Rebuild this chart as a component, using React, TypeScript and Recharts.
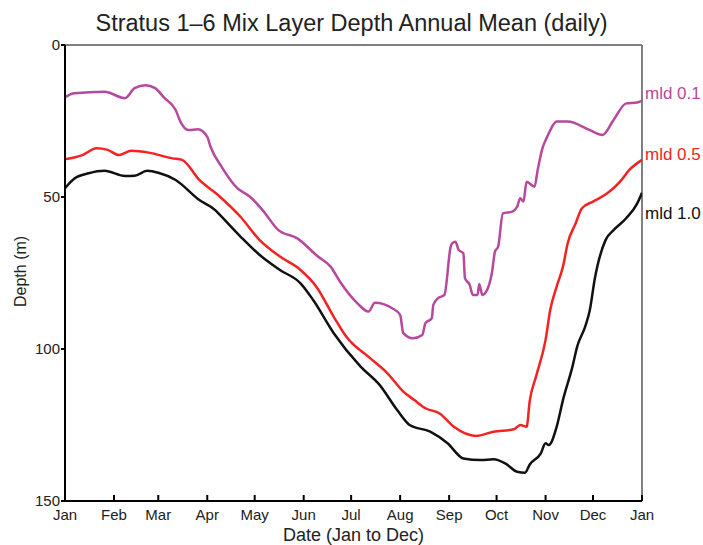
import { Line, LineChart, ReferenceLine, XAxis, YAxis } from "recharts";

const MONTH_TICKS = [0, 31, 59, 90, 120, 151, 181, 212, 243, 273, 304, 334, 365];
const MONTH_LABELS = ["Jan", "Feb", "Mar", "Apr", "May", "Jun", "Jul", "Aug", "Sep", "Oct", "Nov", "Dec", "Jan"];
const DEPTH_TICKS = [0, 50, 100, 150];

// mld 0.1 criterion (day of year, depth in m)
const mld01Days = [
  0, 6, 25, 38, 44, 51, 57, 63, 70, 73, 78, 84, 90, 92, 99, 109, 117, 125, 135, 147, 160, 168,
  174, 185, 192, 196, 207, 212, 214, 220, 226, 228, 232, 233, 236, 240, 244, 245, 247, 249, 252,
  253, 256, 258, 261, 262, 264, 267, 270, 272, 274, 277, 283, 286, 288, 290, 292, 297, 299, 302,
  305, 307, 311, 318, 332, 340, 347, 355, 362, 365,
];
const mld01Depth = [
  17.2, 15.9, 15.4, 17.5, 14.2, 13.2, 14.2, 17.5, 21.4, 25.2, 28, 27.7, 30.2, 33.4, 40, 47.1, 49.9,
  54.3, 60.9, 63.6, 69.6, 72.9, 77.9, 85, 87.7, 84.8, 86.6, 88.8, 94.8, 96.5, 95.4, 91.5, 89.9,
  85.5, 83.3, 82.2, 66.3, 65.2, 64.7, 67.4, 68.5, 76.7, 78.9, 82.2, 82.2, 78.6, 82.2, 80.6, 75.1,
  68, 66.3, 55.4, 54.8, 53.2, 50.4, 51.5, 45, 46.6, 41.1, 34, 30.2, 28, 25.2, 25.2, 28, 29.6, 24.7,
  19.2, 18.9, 18.3,
];

// mld 0.5 criterion
const mld05Days = [
  0, 11, 20, 27, 34, 42, 53, 68, 74, 85, 98, 111, 123, 136, 149, 159, 170, 178, 193, 204, 214,
  221, 228, 237, 246, 260, 271, 284, 288, 292, 294, 298, 304, 307, 311, 315, 318, 323, 327, 334,
  343, 351, 357, 365,
];
const mld05Depth = [
  37.6, 36.2, 34, 34.5, 36.2, 34.8, 35.4, 37.3, 37.8, 44.4, 49.9, 56.5, 64.1, 69.6, 74, 79.5, 89.4,
  96, 103, 108, 114, 116.8, 119.5, 121.2, 125.6, 128.6, 127.2, 126.4, 125, 125.6, 117, 109, 97, 87,
  79.5, 72.9, 65.2, 58.7, 53.7, 51.5, 48.8, 45, 41.1, 37.8,
];

// mld 1.0 criterion
const mld10Days = [
  0, 6, 15, 25, 38, 44, 52, 59, 70, 85, 95, 98, 111, 123, 136, 149, 157, 170, 187, 199, 210, 218,
  231, 242, 252, 263, 271, 279, 286, 291, 294, 301, 304, 306, 311, 315, 321, 324, 329, 332, 335,
  342, 347, 355, 362, 365,
];
const mld10Depth = [
  47.1, 43.9, 42.2, 41.4, 43.1, 43, 41.4, 42, 44.4, 51, 54.3, 55.9, 63, 69, 74, 78.4, 83.9, 94.8,
  105.8, 111.8, 120, 125, 127.2, 131, 136, 136.5, 136.3, 137.8, 140.4, 140.7, 138, 134.3, 131,
  131.6, 125.6, 116.8, 105.8, 99.2, 92.7, 87.2, 77.3, 64.1, 60.9, 57, 52.1, 48.6,
];

const toRows = (days: number[], depths: number[]) => days.map((d, i) => ({ day: d, depth: depths[i] }));

const FONT = "'Liberation Sans', Arial, Helvetica, sans-serif";

function MonthTick({ x, y, payload }: any) {
  const i = MONTH_TICKS.indexOf(payload.value);
  return (
    <g>
      <line x1={x} x2={x} y1={y} y2={y - 6} stroke="#000" strokeWidth={2} />
      <text x={x} y={y + 19} textAnchor="middle" fontSize={15} fill="#222" fontFamily={FONT}>
        {MONTH_LABELS[i]}
      </text>
    </g>
  );
}

function endLabel(text: string, color: string, lastIndex: number, dy: number) {
  // eslint-disable-next-line @typescript-eslint/no-explicit-any
  return (props: any) => {
    if (props.index !== lastIndex) return <g />;
    return (
      <text x={props.x + 3} y={props.y + dy} fontSize={17} fill={color} fontFamily={FONT}>
        {text}
      </text>
    );
  };
}

export default function App() {
  const mld01 = toRows(mld01Days, mld01Depth);
  const mld05 = toRows(mld05Days, mld05Depth);
  const mld10 = toRows(mld10Days, mld10Depth);

  return (
    <div style={{ position: "absolute", left: 0, top: 0, width: 703, height: 545, background: "#fff", fontFamily: FONT }}>
      <div
        style={{
          position: "absolute",
          top: 10,
          left: 0,
          width: 703,
          textAlign: "center",
          fontSize: 23.5,
          color: "#222",
        }}
      >
        Stratus 1–6 Mix Layer Depth Annual Mean (daily)
      </div>
      <LineChart width={703} height={545} margin={{ top: 45, right: 61, bottom: 0, left: 0 }}>
        <XAxis
          dataKey="day"
          type="number"
          domain={[0, 365]}
          ticks={MONTH_TICKS}
          interval={0}
          allowDataOverflow
          height={44}
          tickSize={0}
          tickMargin={0}
          tick={<MonthTick />}
          axisLine={{ stroke: "#000", strokeWidth: 2 }}
          label={{ value: "Date (Jan to Dec)", position: "insideBottom", offset: 4, fontSize: 18, fill: "#222", fontFamily: FONT }}
        />
        <YAxis
          type="number"
          domain={[0, 150]}
          reversed
          ticks={DEPTH_TICKS}
          interval={0}
          allowDataOverflow
          width={65}
          tickSize={4}
          tickMargin={1}
          tick={{ fontSize: 15, fill: "#222", fontFamily: FONT }}
          tickLine={{ stroke: "#000", strokeWidth: 2 }}
          axisLine={{ stroke: "#000", strokeWidth: 2 }}
          label={{ value: "Depth (m)", angle: -90, position: "insideLeft", offset: 20, dy: 34, fontSize: 16, fill: "#222", fontFamily: FONT }}
        />
        <ReferenceLine y={0} stroke="#808080" strokeWidth={2} />
        <ReferenceLine x={365} stroke="#808080" strokeWidth={2} />
        <Line
          data={mld01}
          dataKey="depth"
          type="monotone"
          stroke="#b8479e"
          strokeWidth={2.5}
          dot={false}
          isAnimationActive={false}
          label={endLabel("mld 0.1", "#b8479e", mld01.length - 1, -2)}
        />
        <Line
          data={mld05}
          dataKey="depth"
          type="monotone"
          stroke="#f42323"
          strokeWidth={2.5}
          dot={false}
          isAnimationActive={false}
          label={endLabel("mld 0.5", "#f42323", mld05.length - 1, 0)}
        />
        <Line
          data={mld10}
          dataKey="depth"
          type="monotone"
          stroke="#111"
          strokeWidth={2.5}
          dot={false}
          isAnimationActive={false}
          label={endLabel("mld 1.0", "#111", mld10.length - 1, 26)}
        />
      </LineChart>
    </div>
  );
}
